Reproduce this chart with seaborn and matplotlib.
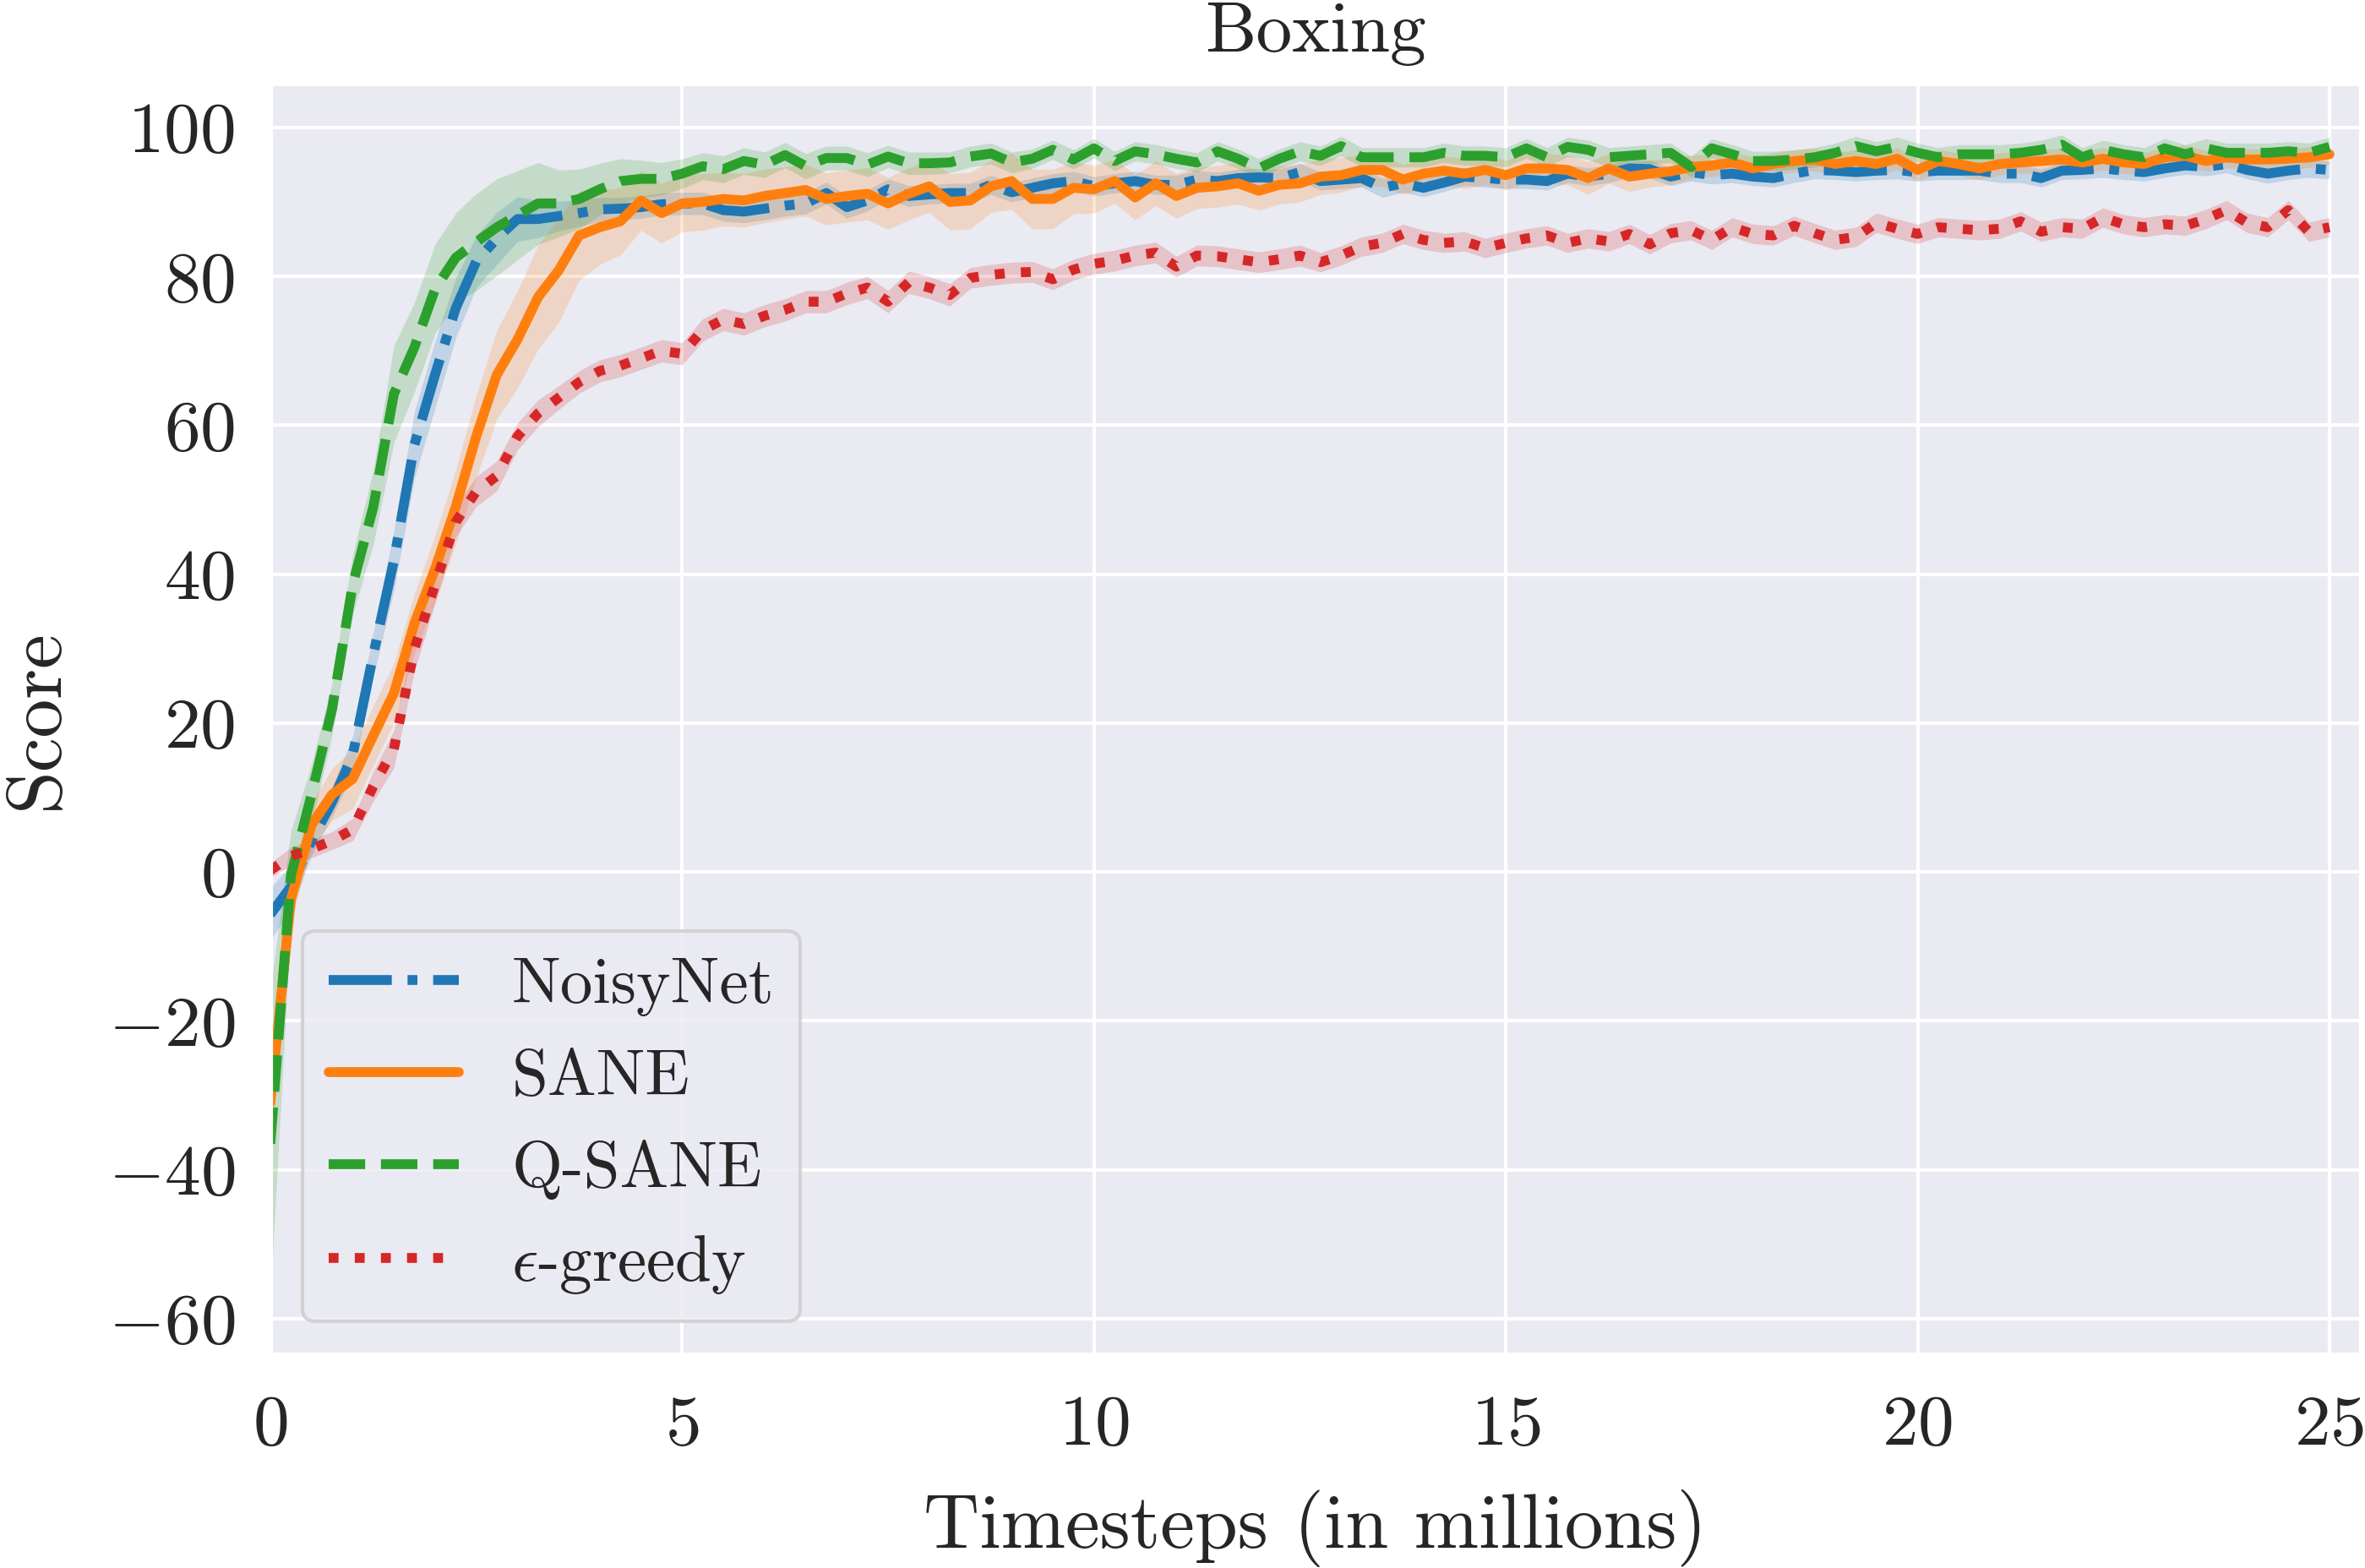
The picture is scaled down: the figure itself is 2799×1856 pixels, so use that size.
import numpy as np
import pandas as pd
import matplotlib
matplotlib.use("Agg")
import matplotlib.pyplot as plt
import seaborn as sns

# ---------------- data ----------------
timesteps = [i * 0.25 for i in range(101)]  # millions

methods = ["NoisyNet", "SANE", "Q-SANE", r"$\epsilon$-greedy"]

noisynet_mean = [
    -5.7, -2.0, 4.2, 9.4, 15.7, 29.2, 41.8, 57.4, 66.8, 75.7,
    82.0, 85.1, 87.7, 87.7, 88.1, 88.5, 89.0, 89.1, 89.3, 89.7,
    89.8, 89.8, 88.9, 88.7, 89.1, 89.5, 89.8, 91.2, 89.3, 90.2,
    91.7, 90.8, 91.0, 91.2, 91.2, 92.3, 91.3, 91.9, 92.5, 92.8,
    92.1, 92.5, 92.8, 92.3, 92.3, 93.0, 92.8, 93.2, 93.3, 93.2,
    94.0, 92.8, 93.0, 93.2, 91.9, 92.5, 91.9, 92.6, 93.4, 93.2,
    93.0, 93.0, 92.8, 93.8, 93.4, 93.8, 94.5, 94.4, 93.4, 94.0,
    93.6, 93.8, 93.4, 93.2, 93.8, 94.3, 94.2, 94.0, 94.2, 94.3,
    94.0, 94.2, 94.2, 94.2, 93.8, 93.8, 93.2, 94.2, 94.3, 94.5,
    94.2, 94.0, 94.5, 94.9, 94.7, 95.1, 94.3, 93.8, 94.2, 94.5,
    94.3,
]
noisynet_band = [
    3.5, 3.0, 2.0, 2.0, 2.5, 3.0, 4.0, 4.5, 4.5, 4.0,
    3.5, 3.5, 3.0, 2.5, 2.0, 1.8, 1.6, 1.5, 1.5, 1.5,
    1.5, 1.5, 1.5, 1.5, 1.5, 1.4, 1.4, 1.5, 1.5, 1.4,
    1.4, 1.4, 1.3, 1.3, 1.3, 1.3, 1.3, 1.3, 1.3, 1.3,
    1.3, 1.3, 1.3, 1.3, 1.3, 1.2, 1.2, 1.2, 1.2, 1.2,
    1.2, 1.2, 1.2, 1.2, 1.3, 1.2, 1.2, 1.2, 1.2, 1.2,
    1.2, 1.2, 1.2, 1.2, 1.2, 1.2, 1.2, 1.2, 1.2, 1.2,
    1.2, 1.2, 1.2, 1.2, 1.2, 1.2, 1.2, 1.2, 1.2, 1.2,
    1.2, 1.2, 1.2, 1.2, 1.2, 1.2, 1.2, 1.2, 1.2, 1.2,
    1.2, 1.2, 1.2, 1.2, 1.2, 1.2, 1.2, 1.3, 1.2, 1.2,
    1.2,
]

sane_mean = [
    -31.0, -3.7, 6.3, 10.4, 12.5, 18.3, 24.0, 33.4, 40.7, 49.0,
    58.5, 66.8, 71.5, 77.2, 80.8, 85.5, 86.6, 87.4, 90.2, 88.5,
    89.8, 90.0, 90.4, 90.2, 90.8, 91.2, 91.6, 90.4, 90.8, 91.1,
    89.8, 91.1, 92.1, 90.0, 90.2, 92.1, 92.8, 90.4, 90.4, 91.9,
    91.7, 92.8, 90.6, 92.5, 90.8, 91.9, 92.1, 92.5, 91.5, 92.3,
    92.5, 93.4, 93.6, 94.3, 94.3, 93.0, 93.8, 94.2, 93.8, 94.3,
    93.6, 94.5, 94.5, 94.3, 93.2, 94.5, 93.4, 93.8, 94.1, 94.7,
    94.9, 95.3, 94.5, 95.1, 95.5, 95.7, 95.1, 95.5, 95.1, 95.8,
    94.3, 95.5, 95.1, 94.5, 95.1, 95.3, 95.5, 95.7, 95.3, 95.8,
    95.3, 95.1, 96.0, 96.2, 95.5, 96.0, 95.7, 95.7, 95.8, 96.0,
    96.4,
]
sane_band = [
    2.0, 3.0, 3.0, 3.5, 4.0, 4.0, 4.0, 4.0, 4.5, 5.0,
    5.5, 6.0, 6.5, 7.0, 7.0, 6.0, 5.0, 4.5, 4.0, 4.0,
    3.8, 3.8, 3.6, 3.6, 3.6, 3.5, 3.5, 3.5, 3.5, 3.5,
    3.5, 3.5, 3.5, 3.8, 3.8, 3.5, 3.8, 4.0, 4.0, 3.5,
    3.2, 3.0, 3.0, 3.0, 3.0, 2.8, 2.8, 2.8, 2.6, 2.6,
    2.5, 2.4, 2.3, 2.2, 2.2, 2.0, 2.0, 2.0, 2.0, 2.0,
    2.0, 2.0, 2.0, 2.0, 2.2, 2.0, 2.0, 1.8, 1.8, 1.6,
    1.5, 1.5, 1.5, 1.5, 1.5, 1.5, 1.5, 1.5, 1.5, 1.5,
    1.5, 1.5, 1.5, 1.5, 1.5, 1.5, 1.5, 1.5, 1.5, 1.5,
    1.5, 1.5, 1.4, 1.4, 1.4, 1.4, 1.4, 1.4, 1.4, 1.4,
    1.4,
]

qsane_mean = [
    -36.5, -0.5, 10.4, 21.9, 38.6, 49.0, 64.2, 70.5, 78.3, 82.5,
    84.6, 86.6, 88.2, 89.8, 89.8, 90.4, 91.7, 92.8, 93.1, 93.1,
    93.8, 94.8, 94.4, 95.5, 95.0, 96.3, 94.8, 95.9, 95.9, 95.0,
    96.1, 95.2, 95.2, 95.3, 96.1, 96.5, 95.3, 95.8, 97.0, 95.7,
    97.2, 95.5, 96.8, 96.4, 95.8, 95.3, 96.8, 95.8, 94.5, 95.8,
    96.8, 96.2, 97.5, 96.0, 96.0, 96.0, 96.0, 96.6, 96.2, 96.2,
    96.0, 97.2, 96.0, 97.4, 97.0, 96.0, 96.2, 96.4, 96.6, 94.7,
    97.2, 96.4, 95.5, 95.5, 95.7, 96.0, 96.6, 97.5, 96.8, 97.4,
    96.6, 96.0, 96.4, 96.4, 96.4, 96.6, 97.0, 97.7, 96.0, 97.0,
    96.4, 96.0, 97.2, 96.4, 97.2, 96.6, 96.6, 96.6, 96.8, 96.6,
    97.4,
]
qsane_band = [
    20.5, 6.0, 4.0, 3.5, 4.0, 5.0, 6.5, 6.0, 6.0, 6.0,
    6.5, 6.5, 6.0, 5.5, 4.5, 4.0, 3.5, 3.0, 2.5, 2.2,
    2.0, 1.8, 1.8, 1.8, 1.7, 1.7, 1.7, 1.6, 1.6, 1.6,
    1.5, 1.5, 1.5, 1.4, 1.4, 1.4, 1.4, 1.3, 1.3, 1.3,
    1.3, 1.3, 1.3, 1.3, 1.3, 1.3, 1.3, 1.3, 1.3, 1.3,
    1.3, 1.3, 1.3, 1.3, 1.3, 1.3, 1.3, 1.3, 1.3, 1.3,
    1.3, 1.3, 1.3, 1.3, 1.3, 1.3, 1.3, 1.3, 1.3, 1.4,
    1.3, 1.3, 1.3, 1.3, 1.3, 1.3, 1.3, 1.3, 1.3, 1.3,
    1.3, 1.3, 1.3, 1.3, 1.3, 1.3, 1.3, 1.3, 1.3, 1.3,
    1.3, 1.3, 1.3, 1.3, 1.3, 1.3, 1.3, 1.3, 1.3, 1.3,
    1.3,
]

egreedy_mean = [
    0.2, 2.1, 3.1, 4.2, 5.7, 11.5, 16.5, 30.0, 38.6, 47.0,
    51.1, 53.2, 58.5, 61.6, 63.7, 65.8, 67.3, 68.0, 69.0, 70.0,
    69.6, 72.8, 74.2, 73.6, 74.7, 75.5, 76.6, 76.6, 77.7, 78.5,
    76.6, 79.2, 78.5, 77.5, 79.8, 80.2, 80.5, 80.6, 79.6, 80.9,
    81.7, 82.1, 82.8, 83.2, 81.3, 82.8, 82.7, 82.3, 81.9, 82.3,
    82.8, 81.9, 82.8, 84.0, 84.5, 85.7, 84.9, 84.5, 84.7, 83.8,
    84.5, 85.1, 85.5, 84.5, 85.1, 84.7, 85.7, 84.3, 85.8, 86.2,
    84.9, 86.6, 85.7, 85.5, 86.8, 85.8, 84.9, 85.3, 87.2, 86.4,
    85.7, 86.6, 86.4, 86.2, 86.4, 87.4, 86.0, 86.6, 86.4, 87.9,
    87.0, 86.6, 87.0, 86.8, 87.7, 88.9, 87.2, 86.6, 88.9, 86.0,
    86.6,
]
egreedy_band = [
    1.0, 1.2, 1.2, 1.2, 1.5, 2.0, 2.5, 3.0, 2.5, 2.0,
    2.0, 2.0, 1.8, 1.8, 1.6, 1.5, 1.5, 1.5, 1.5, 1.5,
    1.5, 1.5, 1.5, 1.5, 1.5, 1.5, 1.5, 1.5, 1.5, 1.5,
    1.5, 1.5, 1.5, 1.5, 1.4, 1.4, 1.4, 1.4, 1.4, 1.4,
    1.4, 1.4, 1.4, 1.4, 1.4, 1.4, 1.4, 1.4, 1.4, 1.4,
    1.4, 1.3, 1.3, 1.3, 1.3, 1.3, 1.3, 1.3, 1.3, 1.3,
    1.3, 1.3, 1.3, 1.3, 1.3, 1.3, 1.3, 1.3, 1.3, 1.3,
    1.3, 1.3, 1.3, 1.3, 1.3, 1.3, 1.3, 1.3, 1.3, 1.3,
    1.3, 1.3, 1.3, 1.3, 1.3, 1.3, 1.3, 1.3, 1.3, 1.3,
    1.3, 1.3, 1.3, 1.3, 1.3, 1.3, 1.3, 1.3, 1.3, 1.3,
    1.3,
]

means = [noisynet_mean, sane_mean, qsane_mean, egreedy_mean]
bands = [noisynet_band, sane_band, qsane_band, egreedy_band]

x_ticks = [0, 5, 10, 15, 20, 25]
y_ticks = [-60, -40, -20, 0, 20, 40, 60, 80, 100]

# ---------------- long-form table: (mean - band, mean, mean + band) ----------------
rows = []
for name, m, b in zip(methods, means, bands):
    assert len(m) == len(timesteps) and len(b) == len(timesteps)
    for t, mv, bv in zip(timesteps, m, b):
        for v in (mv - bv, mv, mv + bv):
            rows.append({"t": t, "score": v, "method": name})
df = pd.DataFrame(rows)

# ---------------- style ----------------
sns.set_theme(style="darkgrid")
plt.rcParams["font.family"] = ["cmr10", "DejaVu Serif"]
plt.rcParams["mathtext.fontset"] = "cm"
plt.rcParams["axes.formatter.use_mathtext"] = True
plt.rcParams["axes.unicode_minus"] = True

palette = {methods[0]: "#1f77b4", methods[1]: "#ff7f0e",
           methods[2]: "#2ca02c", methods[3]: "#d62728"}
dashes = {methods[0]: (6.4, 1.6, 1.0, 1.6), methods[1]: "",
          methods[2]: (3.7, 1.6), methods[3]: (1.0, 1.65)}

LW = 2.8

fig = plt.figure(figsize=(2799 / 300, 1856 / 300), dpi=300)
ax = fig.add_axes([0.1143, 0.1363, 0.9982 - 0.1143, 0.9467 - 0.1363])

sns.lineplot(data=df, x="t", y="score", hue="method", style="method",
             hue_order=methods, style_order=methods, palette=palette,
             dashes=dashes, estimator="median", errorbar=("pi", 100),
             linewidth=LW, err_kws={"alpha": 0.2, "linewidth": 0},
             ax=ax)

ax.set_xlim(0, 25.38)
ax.set_ylim(-64.8, 105.9)
ax.set_xticks(x_ticks)
ax.set_yticks(y_ticks)
ax.grid(True, color="white", linewidth=1.0)
ax.tick_params(axis="x", labelsize=20.5, pad=11.5, length=0)
ax.tick_params(axis="y", labelsize=20.5, pad=10, length=0)

ax.set_title("Boxing", fontsize=20.5, pad=9)
ax.set_xlabel("Timesteps (in millions)", fontsize=22, labelpad=9)
ax.set_ylabel("Score", fontsize=22, labelpad=10)

handles, labels = ax.get_legend_handles_labels()
for h in handles:
    h.set_linewidth(LW)
ax.legend(handles, labels, loc="lower left", fontsize=18.5,
          handlelength=2.0, frameon=True)

fig.savefig("out.png", dpi=300)
